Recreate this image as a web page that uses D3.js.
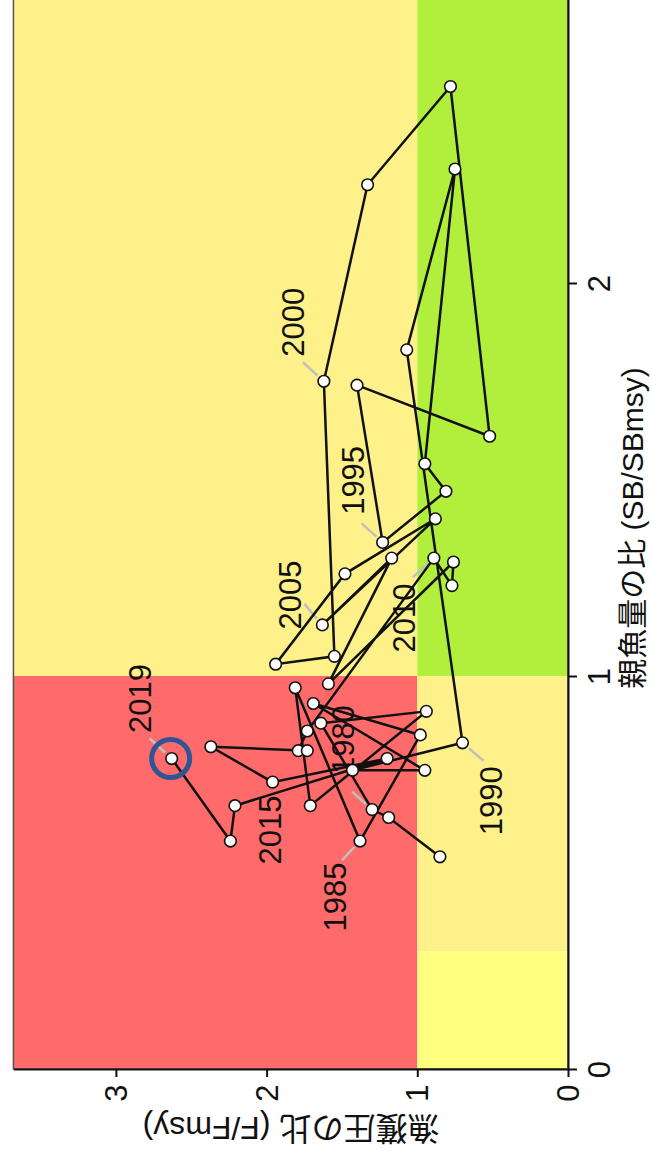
<!DOCTYPE html>
<html>
<head>
<meta charset="utf-8">
<script src="https://cdn.jsdelivr.net/npm/d3@7"></script>
<style>
  body { margin: 0; background: #fff; }
  text { font-family: "Liberation Sans", Arial, "Noto Sans CJK JP", sans-serif; }
</style>
</head>
<body>
<div id="my_dataviz"></div>
<script>

// kobe plot, drawn turned on its side (SB goes up, F goes left)
var years = [1978, 1979, 1980, 1981, 1982, 1983, 1984, 1985, 1986, 1987,
             1988, 1989, 1990, 1991, 1992, 1993, 1994, 1995, 1996, 1997,
             1998, 1999, 2000, 2001, 2002, 2003, 2004, 2005, 2006, 2007,
             2008, 2009, 2010, 2011, 2012, 2013, 2014, 2015, 2016, 2017,
             2018, 2019];
var sb_ratio = [0.54, 0.64, 0.66, 0.88, 0.91, 0.67, 0.97, 0.58, 0.85, 0.93,
                0.76, 0.76, 0.83, 1.83, 2.29, 1.54, 1.47, 1.34, 1.74, 1.61,
                2.50, 2.25, 1.75, 1.05, 1.03, 1.26, 1.40, 1.13, 1.30, 0.98,
                1.29, 1.23, 1.30, 0.86, 0.81, 0.81, 0.82, 0.73, 0.79, 0.67,
                0.58, 0.79];
var f_ratio = [0.85, 1.19, 1.30, 1.64, 0.94, 1.71, 1.81, 1.38, 0.98, 1.69,
               0.95, 1.43, 0.70, 1.07, 0.75, 0.95, 0.81, 1.23, 1.40, 0.52,
               0.78, 1.33, 1.62, 1.55, 1.94, 1.48, 0.88, 1.63, 1.17, 1.59,
               0.76, 0.77, 0.89, 1.73, 1.79, 1.73, 2.37, 1.96, 1.20, 2.21,
               2.24, 2.63];
var label_years = [1980, 1985, 1990, 1995, 2000, 2005, 2010, 2015, 2019];
var f_ticks = [0, 1, 2, 3];
var sb_ticks = [0, 1, 2];
var sb_title = "親魚量の比 (SB/SBmsy)";
var f_title = "漁獲圧の比 (F/Fmsy)";

var width = 652, height = 1160;

var svg = d3.select("#my_dataviz")
  .append("svg")
    .attr("width", width)
    .attr("height", height);

// SB runs bottom -> top, F runs right -> left
var y = d3.scaleLinear().domain([0, 2.8]).range([1069, 1069 - 2.8 * 393]);
var x = d3.scaleLinear().domain([0, 3.68]).range([568, 568 - 3.68 * 150.7]);

var fmax = x.domain()[1], sbmax = y.domain()[1];

// zones
function zone(f0, f1, s0, s1, col) {
  svg.append("rect")
    .attr("x", x(f1))
    .attr("y", y(s1))
    .attr("width", x(f0) - x(f1))
    .attr("height", y(s0) - y(s1))
    .style("fill", col);
}
zone(1, fmax, 1, sbmax, "#fef18a");
zone(0, 1, 1, sbmax, "#b2ee3c");
zone(1, fmax, 0, 1, "#ff6a6a");
zone(0, 1, 0.3, 1, "#fef18a");
zone(0, 1, 0, 0.3, "#ffff80");

// frame
svg.append("rect")
  .attr("x", x(fmax))
  .attr("y", y(sbmax))
  .attr("width", x(0) - x(fmax))
  .attr("height", y(0) - y(sbmax))
  .style("fill", "none")
  .style("stroke", "#555")
  .style("stroke-width", 1.5);

var pts = years.map(function(d, i) { return {year: d, sb: sb_ratio[i], f: f_ratio[i]}; });

// leader lines + year labels
var lab_off = {
  1980: [-29, -70, -20, -18], 1985: [-25, 56, -18, 19], 1990: [29, 58, 21, 18],
  1995: [-29, -62, -21, -19], 2000: [-30, -59, -21, -19], 2005: [-32, -30, -18, -21],
  2010: [-29, 60, -21, 19], 2015: [-2, 48, 0, 0], 2019: [-31, -60, -22, -20]
};
var lab_pts = pts.filter(function(d) { return label_years.indexOf(d.year) >= 0; });

svg.append("g")
  .selectAll("line")
  .data(lab_pts)
  .enter()
  .append("line")
    .attr("x1", function(d) { return x(d.f) + lab_off[d.year][2] * 0.3; })
    .attr("y1", function(d) { return y(d.sb) + lab_off[d.year][3] * 0.3; })
    .attr("x2", function(d) { return x(d.f) + lab_off[d.year][2]; })
    .attr("y2", function(d) { return y(d.sb) + lab_off[d.year][3]; })
    .style("stroke", "#c0c0c0")
    .style("stroke-width", 2.5);

svg.append("g")
  .selectAll("text")
  .data(lab_pts)
  .enter()
  .append("text")
    .attr("transform", function(d) {
      return "translate(" + (x(d.f) + lab_off[d.year][0]) + "," + (y(d.sb) + lab_off[d.year][1]) + ") rotate(-90)";
    })
    .attr("text-anchor", "middle")
    .attr("dominant-baseline", "central")
    .style("font-size", "31px")
    .style("fill", "#111")
    .text(function(d) { return d.year; });

// trajectory
var line = d3.line()
  .x(function(d) { return x(d.f); })
  .y(function(d) { return y(d.sb); });

svg.append("path")
  .datum(pts)
  .attr("d", line)
  .style("fill", "none")
  .style("stroke", "#111")
  .style("stroke-width", 2.5);

svg.append("g")
  .selectAll("circle")
  .data(pts)
  .enter()
  .append("circle")
    .attr("cx", function(d) { return x(d.f); })
    .attr("cy", function(d) { return y(d.sb); })
    .attr("r", 5.8)
    .style("fill", "#fff")
    .style("stroke", "#111")
    .style("stroke-width", 1.6);

// highlight latest year
var last = pts[pts.length - 1];
svg.append("circle")
  .attr("cx", x(last.f) - 1)
  .attr("cy", y(last.sb))
  .attr("r", 19)
  .style("fill", "none")
  .style("stroke", "#2f5597")
  .style("stroke-width", 5);

// F axis (bottom)
var fAxis = svg.append("g")
  .attr("transform", "translate(0," + y(0) + ")")
  .call(d3.axisBottom(x).tickValues(f_ticks).tickSize(8).tickSizeOuter(0).tickFormat(d3.format("d")));
fAxis.select(".domain").style("stroke", "#111").style("stroke-width", 2);
fAxis.selectAll(".tick line").style("stroke", "#111").style("stroke-width", 2);
fAxis.selectAll("text")
  .attr("y", 0)
  .attr("dy", null)
  .attr("transform", "translate(0,24) rotate(-90)")
  .attr("text-anchor", "middle")
  .attr("dominant-baseline", "central")
  .style("font-size", "31px")
  .style("font-family", "Liberation Sans, Arial, sans-serif")
  .style("fill", "#111");

// SB axis (right)
var sbAxis = svg.append("g")
  .attr("transform", "translate(" + x(0) + ",0)")
  .call(d3.axisRight(y).tickValues(sb_ticks).tickSize(9).tickSizeOuter(0).tickFormat(d3.format("d")));
sbAxis.select(".domain").style("stroke", "#111").style("stroke-width", 2);
sbAxis.selectAll(".tick line").style("stroke", "#111").style("stroke-width", 2);
sbAxis.selectAll("text")
  .attr("x", 0)
  .attr("dy", null)
  .attr("transform", "translate(31,0) rotate(-90)")
  .attr("text-anchor", "middle")
  .attr("dominant-baseline", "central")
  .style("font-size", "31px")
  .style("font-family", "Liberation Sans, Arial, sans-serif")
  .style("fill", "#111");

// axis titles
svg.append("text")
  .attr("transform", "translate(632,528) rotate(-90)")
  .attr("text-anchor", "middle")
  .attr("dominant-baseline", "central")
  .style("font-size", "30px")
  .style("fill", "#111")
  .text(sb_title);

svg.append("text")
  .attr("transform", "translate(291,1128) rotate(180)")
  .attr("text-anchor", "middle")
  .attr("dominant-baseline", "central")
  .style("font-size", "32px")
  .style("fill", "#111")
  .text(f_title);

</script>
</body>
</html>
